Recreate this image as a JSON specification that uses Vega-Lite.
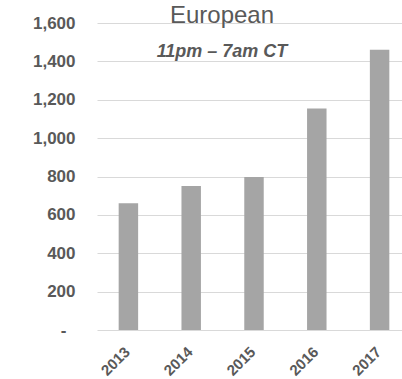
{
  "$schema": "https://vega.github.io/schema/vega-lite/v6.json",
  "autosize": {"type": "none"},
  "padding": {"left": 97, "top": 23, "right": 0, "bottom": 49},
  "width": 314,
  "height": 307,
  "background": "white",
  "title": {
    "text": "European",
    "subtitle": "11pm – 7am CT",
    "anchor": "middle",
    "dx": -32,
    "dy": 47,
    "offset": 0,
    "font": "Liberation Sans",
    "fontSize": 24,
    "fontWeight": "normal",
    "color": "#595959",
    "subtitleFont": "Liberation Sans",
    "subtitleFontSize": 18,
    "subtitleFontWeight": "bold",
    "subtitleFontStyle": "italic",
    "subtitleColor": "#595959",
    "subtitlePadding": 15
  },
  "data": {
    "values": [
      {"year": "2013", "value": 661},
      {"year": "2014", "value": 750},
      {"year": "2015", "value": 797},
      {"year": "2016", "value": 1155},
      {"year": "2017", "value": 1461}
    ]
  },
  "mark": {"type": "bar", "color": "#A5A5A5"},
  "encoding": {
    "x": {
      "field": "year",
      "type": "ordinal",
      "scale": {"paddingInner": 0.69, "paddingOuter": 0.345},
      "axis": {
        "title": null,
        "labelAngle": -45,
        "labelFont": "Liberation Sans",
        "labelFontSize": 15,
        "labelFontWeight": "bold",
        "labelColor": "#595959",
        "ticks": false,
        "tickSize": 0,
        "domain": false,
        "labelPadding": 14,
        "labelOffset": -6
      }
    },
    "y": {
      "field": "value",
      "type": "quantitative",
      "scale": {"domain": [0, 1600], "nice": false},
      "axis": {
        "title": null,
        "values": [0, 200, 400, 600, 800, 1000, 1200, 1400, 1600],
        "format": ",d",
        "labelExpr": "datum.value == 0 ? '-' : datum.label",
        "labelFont": "Liberation Sans",
        "labelFontSize": 17,
        "labelFontWeight": "bold",
        "labelColor": "#595959",
        "ticks": false,
        "tickSize": 0,
        "domain": false,
        "labelPadding": {"condition": {"test": "datum.value == 0", "value": 31}, "value": 22},
        "grid": true,
        "gridColor": "#D9D9D9",
        "gridWidth": 1
      }
    }
  },
  "config": {"view": {"stroke": null}}
}
